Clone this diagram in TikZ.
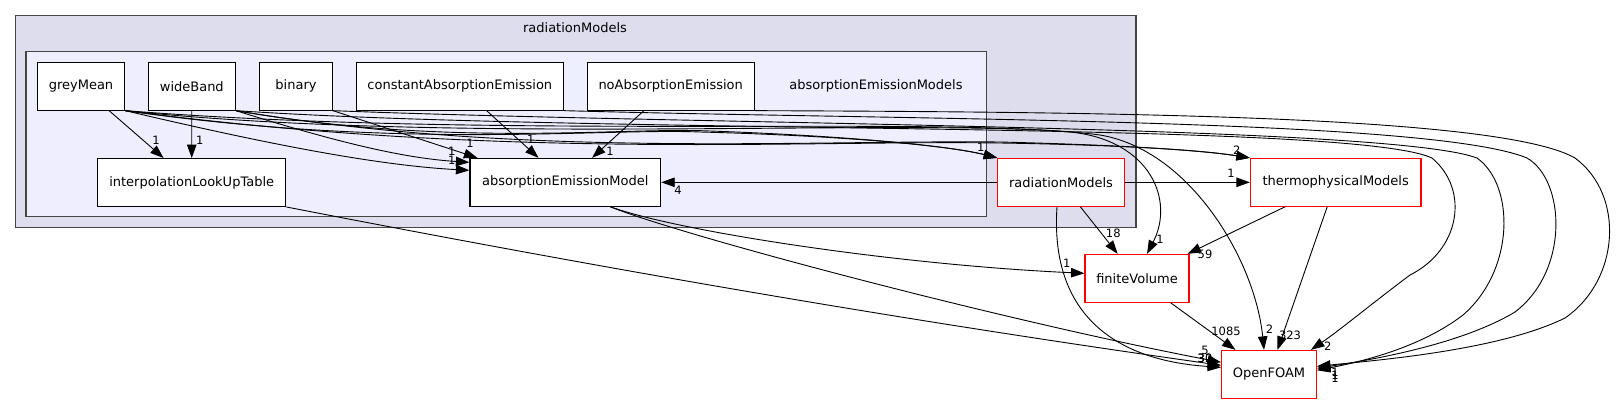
\documentclass[tikz,border=0pt]{standalone}
\usepackage{fontspec}
\setmainfont{DejaVu Sans}
\usetikzlibrary{arrows.meta}

\begin{document}
\begin{tikzpicture}[x=1pt, y=-1pt,
  dirnode/.style={draw=black, fill=white, line width=1.1pt, minimum height=47.8pt,
    inner sep=0pt, font=\fontsize{13}{15}\selectfont},
  rednode/.style={dirnode, draw=red},
  dep/.style={-{Triangle[length=13.5pt,width=9.5pt]}, line width=0.9pt},
  num/.style={inner sep=0pt, font=\fontsize{11.5}{13}\selectfont}]
\definecolor{OuterFill}{RGB}{221,221,238}
\definecolor{InnerFill}{RGB}{238,238,255}
\definecolor{FrameGray}{RGB}{68,68,68}
\useasboundingbox (0,0) rectangle (1616,404);
% clusters
\filldraw[fill=OuterFill, draw=FrameGray, line width=1.3pt] (15.3,15.3) rectangle (1136,227.7);
\filldraw[fill=InnerFill, draw=FrameGray, line width=1.3pt] (26,51.7) rectangle (986.7,216.7);
\node[font=\fontsize{13}{15}\selectfont] (outerlabel) at (575,27.7) {radiationModels};
\node[font=\fontsize{13}{15}\selectfont] (innerlabel) at (876,85.7) {absorptionEmissionModels};
% directories
\node[dirnode, minimum width=87.4pt] (greymean) at (81,86.2) {greyMean};
\node[dirnode, minimum width=87pt] (wideband) at (191.8,86.2) {wideBand};
\node[dirnode, minimum width=72.6pt] (binary) at (296,86.2) {binary};
\node[dirnode, minimum width=207pt] (constabs) at (459.8,86.2) {constantAbsorptionEmission};
\node[dirnode, minimum width=167.3pt] (noabs) at (670.7,86.2) {noAbsorptionEmission};
\node[dirnode, minimum width=188.1pt] (interp) at (191.7,182.5) {interpolationLookUpTable};
\node[dirnode, minimum width=190.7pt] (absem) at (565.3,182.3) {absorptionEmissionModel};
\node[rednode, minimum width=126.6pt] (radmod) at (1061,182.3) {radiationModels};
\node[rednode, minimum width=170.5pt] (thermo) at (1335.7,182.3) {thermophysicalModels};
\node[rednode, minimum width=104pt] (finvol) at (1137,278.3) {finiteVolume};
\node[rednode, minimum width=94.8pt] (openfoam) at (1269,374.3) {OpenFOAM};
% straight dependencies
\draw[dep] (greymean) -- (interp);
\draw[dep] (wideband) -- (interp);
\draw[dep] (binary.south east) -- ([xshift=8pt]absem.north west);
\draw[dep] (constabs) -- (absem);
\draw[dep] (noabs) -- (absem);
\draw[dep] (radmod) -- (absem);
\draw[dep] (radmod) -- (thermo);
\draw[dep] (radmod) -- (finvol);
\draw[dep] (thermo) -- (finvol);
\draw[dep] (thermo) -- (openfoam);
\draw[dep] (finvol) -- (openfoam);
% curved dependencies
\draw[dep] (greymean.south east) .. controls (250,140) and (370,165) .. ([yshift=12pt]absem.west);
\draw[dep] (wideband.south east) .. controls (330,140) and (400,158) .. ([yshift=20pt]absem.west);
\draw[dep] (greymean.south east) .. controls (400,150) and (600,128) .. (700,132)
  .. controls (850,136) and (950,146) .. (radmod.north west);
\draw[dep] (wideband.south east) .. controls (450,148) and (620,127) .. (710,131)
  .. controls (850,136) and (950,146) .. (radmod.north west);
\draw[dep] (greymean.south east) .. controls (500,160) and (800,140) .. (1000,143)
  .. controls (1120,145) and (1200,150) .. (thermo.north west);
\draw[dep] (wideband.south east) .. controls (520,158) and (800,140) .. (1000,142)
  .. controls (1120,145) and (1200,150) .. (thermo.north west);
\draw[dep] (greymean.south east) .. controls (450,145) and (900,118) .. (1070,132)
  .. controls (1150,140) and (1175,200) .. ([xshift=10pt]finvol.north);
\draw[dep] (greymean.south east) .. controls (500,140) and (950,115) .. (1100,135)
  .. controls (1190,150) and (1255,260) .. ([xshift=-5pt]openfoam.north);
\draw[dep] (wideband.south east) .. controls (600,135) and (1350,120) .. (1432,158)
  .. controls (1470,190) and (1460,250) .. (1410,275)
  .. controls (1370,305) and (1340,330) .. ([xshift=-6pt]openfoam.north east);
\draw[dep] (binary.south east) .. controls (700,125) and (1390,125) .. (1477,158)
  .. controls (1515,185) and (1515,270) .. (1463,315)
  .. controls (1420,348) and (1360,362) .. ([yshift=4pt]openfoam.east);
\draw[dep] (constabs.south east) .. controls (900,120) and (1430,118) .. (1527,158)
  .. controls (1565,180) and (1570,270) .. (1515,312)
  .. controls (1460,345) and (1370,360) .. ([yshift=6pt]openfoam.east);
\draw[dep] (noabs.south east) .. controls (1100,112) and (1500,115) .. (1575,158)
  .. controls (1625,195) and (1620,280) .. (1565,318)
  .. controls (1500,350) and (1380,360) .. ([yshift=8pt]openfoam.east);
\draw[dep] ([xshift=45pt]absem.south) .. controls (680,232) and (900,265) .. ([yshift=5pt]finvol.west);
\draw[dep] ([xshift=45pt]absem.south) .. controls (680,235) and (1000,320) .. ([yshift=12pt]openfoam.west);
\draw[dep] (interp.south east) .. controls (600,268) and (900,320) .. ([yshift=9pt]openfoam.west);
\draw[dep] ([xshift=-4pt]radmod.south) .. controls (1050,310) and (1110,360) .. ([yshift=7pt]openfoam.west);
% edge counts
\foreach \n/\x/\y/\t in {a/156/140/1, b/199.7/140/1, c/470/143.3/1, d/451.7/151.7/1,
  e/451.7/160/1, f/530.7/139.3/1, g/610/151.7/1, h/980.7/147.3/1, i/1236.7/150/2,
  j/1231/173.3/1, k/678/190/4, l/1113.3/233.3/18, m/1160/239/1, n/1066.7/263.3/1,
  o/1205/254/59, p/1226/331.7/1085, q/1269.5/329/2, r/1290/335/323, s/1327.7/346.7/2,
  t/1335/372/1, u/1335/375/1, v/1335/378/1, w/1205/350/5, x/1205/358.3/30, y/1205/358.3/32}{
\node[num] (lab\n) at (\x,\y) {\t};
}
\end{tikzpicture}
\end{document}
